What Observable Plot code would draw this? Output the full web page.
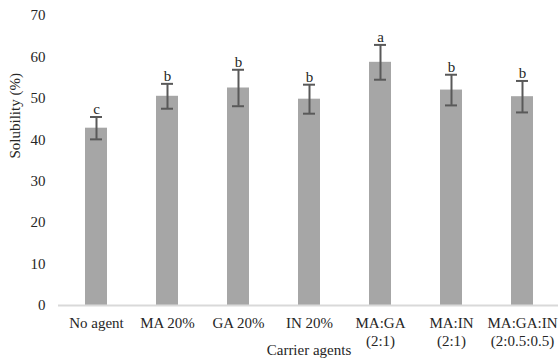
<!DOCTYPE html>
<html>
<head>
<meta charset="utf-8">
<script src="https://cdn.jsdelivr.net/npm/d3@7"></script>
<script src="https://cdn.jsdelivr.net/npm/@observablehq/plot@0.6"></script>
<style>
  html, body { margin: 0; padding: 0; background: #fff; }
  #chart { position: relative; width: 558px; height: 360px; }
  #chart svg { display: block; }
  .xtitle { position: absolute; left: 0; width: 618px; top: 342px; text-align: center;
    font-family: "Liberation Serif", "Times New Roman", serif; font-size: 15px; color: #262626; }
</style>
</head>
<body>
<div id="chart"></div>
<script>
const categories = ["No agent", "MA 20%", "GA 20%", "IN 20%", "MA:GA\n(2:1)", "MA:IN\n(2:1)", "MA:GA:IN\n(2:0.5:0.5)"];
const solubility = [42.8, 50.5, 52.5, 49.8, 58.7, 52.0, 50.4];
const errors = [2.7, 3.0, 4.4, 3.5, 4.2, 3.7, 3.8];
const letters = ["c", "b", "b", "b", "a", "b", "b"];
const yTicks = [0, 10, 20, 30, 40, 50, 60, 70];

const data = categories.map((c, i) => ({
  cat: c, v: solubility[i], lo: solubility[i] - errors[i], hi: solubility[i] + errors[i], letter: letters[i]
}));

const font = '"Liberation Serif", "Times New Roman", serif';
const chart = Plot.plot({
  width: 558,
  height: 360,
  marginLeft: 58,
  marginRight: 0,
  marginTop: 15,
  marginBottom: 55,
  style: { fontFamily: font, fontSize: "15px", color: "#262626", background: "#fff" },
  x: { domain: categories, range: [59, 560], paddingInner: 0.69, paddingOuter: 0.345, align: 0.5, label: null },
  y: { domain: [0, 70], label: null },
  marks: [
    Plot.barY(data, { x: "cat", y: "v", fill: "#a6a6a6" }),
    Plot.ruleY([0], { stroke: "#d9d9d9", strokeWidth: 2 }),
    Plot.ruleX(data, { x: "cat", y1: "lo", y2: "hi", stroke: "#595959", strokeWidth: 2 }),
    Plot.tickY(data, { x: "cat", y: "hi", stroke: "#595959", strokeWidth: 2, insetLeft: 5, insetRight: 5 }),
    Plot.tickY(data, { x: "cat", y: "lo", stroke: "#595959", strokeWidth: 2, insetLeft: 5, insetRight: 5 }),
    Plot.text(data, { x: "cat", y: "hi", text: "letter", lineAnchor: "bottom", dy: -3, fontSize: 15, fill: "#262626" }),
    Plot.axisY({ ticks: yTicks, tickSize: 0, tickPadding: 13, fontSize: 15, label: null }),
    Plot.axisX({ tickSize: 0, tickPadding: 10, fontSize: 15, lineHeight: 1.2, label: null }),
    Plot.text(["Solubility (%)"], { frameAnchor: "left", dx: -43, dy: -2, rotate: -90, fontSize: 15, fill: "#262626" })
  ]
});
document.getElementById("chart").appendChild(chart);
const t = document.createElement("div");
t.className = "xtitle";
t.textContent = "Carrier agents";
document.getElementById("chart").appendChild(t);
</script>
</body>
</html>
